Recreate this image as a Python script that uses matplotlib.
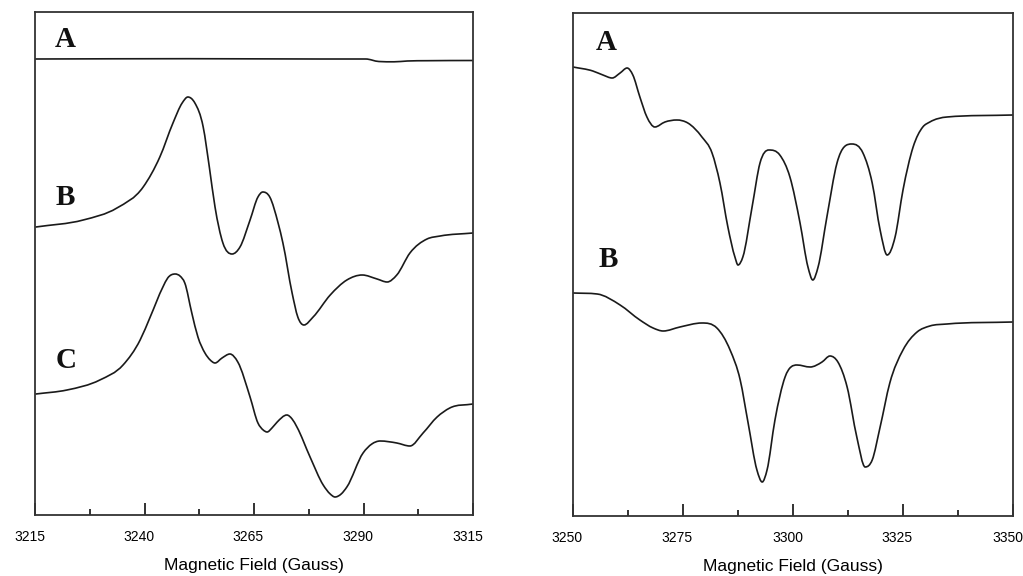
import numpy as np
import matplotlib
matplotlib.use("Agg")
import matplotlib.pyplot as plt
from matplotlib.path import Path
from matplotlib.patches import PathPatch
from matplotlib.transforms import ScaledTranslation

# ---------------- data ----------------
# Left panel
left_A_field = [3215, 3250, 3280, 3290.5, 3293.5, 3297, 3300, 3304.5, 3315]
left_A_signal = [456, 456.3, 456, 456, 453.5, 453.2, 454, 454.3, 454.5]

left_B_field = [3215.2, 3226.0, 3233.7, 3239.7, 3243.5, 3246.5, 3248.6, 3249.9, 3251.5,
                3253.4, 3254.8, 3256.1, 3257.9, 3260.0, 3261.8, 3264.1, 3265.9, 3267.0,
                3268.6, 3270.5, 3271.6, 3273.7, 3275.0, 3276.4,
                3278.5, 3282.4, 3286.2, 3289.7, 3293.1, 3295.4, 3297.6, 3300.6, 3304.5,
                3307.5, 3315.0]
left_B_signal = [288, 295, 307, 328, 358, 392, 412, 418, 412,
                 388, 348, 308, 272, 261, 268, 295, 318, 323,
                 318, 292, 272, 222, 198, 190,
                 198, 220, 235, 240, 236, 233, 240, 262, 276,
                 279, 282]

left_C_field = [3215.2, 3222.3, 3229.8, 3235.1, 3239.0, 3241.3, 3244.2, 3245.3, 3247.0,
                3248.1, 3249.2, 3250.8, 3252.2, 3253.8, 3255.0, 3256.1, 3257.7, 3259.5,
                3261.3, 3264.1, 3265.9, 3267.1, 3268.0, 3269.1, 3270.3, 3272.5, 3273.7,
                3274.8, 3277.8, 3280.8, 3282.4, 3283.5, 3284.9, 3286.2, 3289.9, 3291.9,
                3293.8, 3297.6, 3300.6, 3303.6, 3306.8, 3309.7, 3315.0]
left_C_signal = [121, 125, 135, 150, 175, 198, 228, 237, 241,
                 239, 232, 202, 178, 162, 155, 152, 157, 161,
                 153, 118, 92, 85, 83, 87, 93, 100, 96,
                 88, 58, 30, 21, 18, 21, 28, 62, 71,
                 74, 72, 69, 82, 98, 107, 111]

# Right panel
right_A_field = [3250.0, 3254.5, 3256.8, 3258.9, 3260.7, 3262.3, 3263.6, 3265.2, 3266.8,
                 3268.6, 3270.9, 3273.6, 3276.1, 3279.3, 3281.6, 3283.4, 3285.2, 3286.8,
                 3287.5, 3288.6, 3290.7, 3292.5, 3294.5, 3297.0, 3299.3, 3301.6, 3303.4,
                 3304.5, 3305.7, 3307.7, 3310.0, 3313.4, 3315.9, 3318.0, 3319.8, 3321.4,
                 3323.2, 3325.0, 3327.3, 3329.5, 3331.1, 3335.0, 3350.0]
right_A_signal = [449, 445, 441, 438, 443, 448, 441, 419, 399,
                  389, 394, 396, 393, 379, 363, 333, 289, 259,
                  251, 259, 309, 353, 366, 361, 339, 293, 249,
                  236, 249, 299, 353, 372, 363, 333, 286, 261,
                  279, 326, 369, 389, 394, 399, 401]

right_B_field = [3250.0, 3255.5, 3260.7, 3265.2, 3268.2, 3270.5, 3274.3, 3279.3, 3282.7,
                 3285.7, 3288.0, 3289.8, 3291.8, 3293.0, 3294.1, 3295.9, 3298.2, 3300.9,
                 3303.9, 3306.6, 3308.4, 3310.2, 3312.3, 3314.5, 3316.4, 3318.0, 3319.8,
                 3322.0, 3325.0, 3328.2, 3331.1, 3335.0, 3350.0]
right_B_signal = [223, 222, 211, 196, 188, 185, 189, 193, 188,
                  166, 136, 93, 46, 34, 46, 96, 139, 151,
                  149, 154, 160, 154, 129, 79, 49, 56, 89,
                  133, 166, 184, 190, 192, 194]

left_ticks = [3215, 3240, 3265, 3290, 3315]
left_minor = [3227.5, 3252.5, 3277.5, 3302.5]
right_ticks = [3250, 3275, 3300, 3325, 3350]
right_minor = [3262.5, 3287.5, 3312.5, 3337.5]
xlabel = "Magnetic Field (Gauss)"


def smooth_trace(ax, xs, ys, **kw):
    """Draw the trace as a smooth cubic Bezier path passing through the read points
    (central-difference tangents, limited so the curve does not overshoot)."""
    x = np.asarray(xs, float)
    y = np.asarray(ys, float)
    h = np.diff(x)
    d = np.diff(y) / h
    n = len(x)
    m = np.zeros(n)
    m[0], m[-1] = d[0], d[-1]
    for k in range(1, n - 1):
        if d[k - 1] * d[k] <= 0:
            m[k] = 0.0
        else:
            c = (d[k - 1] * h[k] + d[k] * h[k - 1]) / (h[k - 1] + h[k])
            lim = 3 * min(abs(d[k - 1]), abs(d[k]))
            m[k] = np.sign(c) * min(abs(c), lim)
    verts = [(x[0], y[0])]
    codes = [Path.MOVETO]
    for k in range(n - 1):
        verts += [(x[k] + h[k] / 3, y[k] + m[k] * h[k] / 3),
                  (x[k + 1] - h[k] / 3, y[k + 1] - m[k + 1] * h[k] / 3),
                  (x[k + 1], y[k + 1])]
        codes += [Path.CURVE4] * 3
    ax.add_patch(PathPatch(Path(verts, codes), fill=False, **kw))


# ---------------- figure ----------------
W, H = 1023, 576
fig = plt.figure(figsize=(W / 100, H / 100), dpi=100)
ax1 = fig.add_axes([35 / W, (H - 515) / H, 438 / W, 503 / H])
ax2 = fig.add_axes([573 / W, (H - 516) / H, 440 / W, 503 / H])

line_kw = dict(edgecolor="#1a1a1a", lw=1.2, capstyle="round", joinstyle="round")
smooth_trace(ax1, left_A_field, left_A_signal, **line_kw)
smooth_trace(ax1, left_B_field, left_B_signal, **line_kw)
smooth_trace(ax1, left_C_field, left_C_signal, **line_kw)
smooth_trace(ax2, right_A_field, right_A_signal, **line_kw)
smooth_trace(ax2, right_B_field, right_B_signal, **line_kw)

letter_kw = dict(fontsize=21, fontweight="bold", family="Liberation Serif",
                 ha="left", va="baseline", color="#111111")
ax1.text(3219.6, 468, "A", **letter_kw)
ax1.text(3219.8, 310, "B", **letter_kw)
ax1.text(3219.6, 147, "C", **letter_kw)
ax2.text(3255.2, 466, "A", **letter_kw)
ax2.text(3255.9, 249, "B", **letter_kw)

for ax, ticks, minor in ((ax1, left_ticks, left_minor), (ax2, right_ticks, right_minor)):
    ax.set_xlim(ticks[0], ticks[-1])
    ax.set_ylim(0, 503)
    ax.set_yticks([])
    ax.set_xticks(ticks)
    ax.set_xticks(minor, minor=True)
    ax.set_xticklabels([str(t) for t in ticks], family="Liberation Sans", fontsize=10)
    ax.tick_params(axis="x", which="major", direction="in", length=8.5, width=1.3,
                   pad=11, color="#222222")
    ax.tick_params(axis="x", which="minor", direction="in", length=4.5, width=1.3,
                   color="#222222")
    for s in ax.spines.values():
        s.set_linewidth(1.3)
        s.set_color("#333333")
    ax.set_xlabel(xlabel, family="Liberation Sans", fontsize=12.5, labelpad=10)
    for lbl in ax.get_xticklabels():
        lbl.set_transform(lbl.get_transform() + ScaledTranslation(-4 / 72, 0, fig.dpi_scale_trans))

fig.savefig("out.png", dpi=100)
